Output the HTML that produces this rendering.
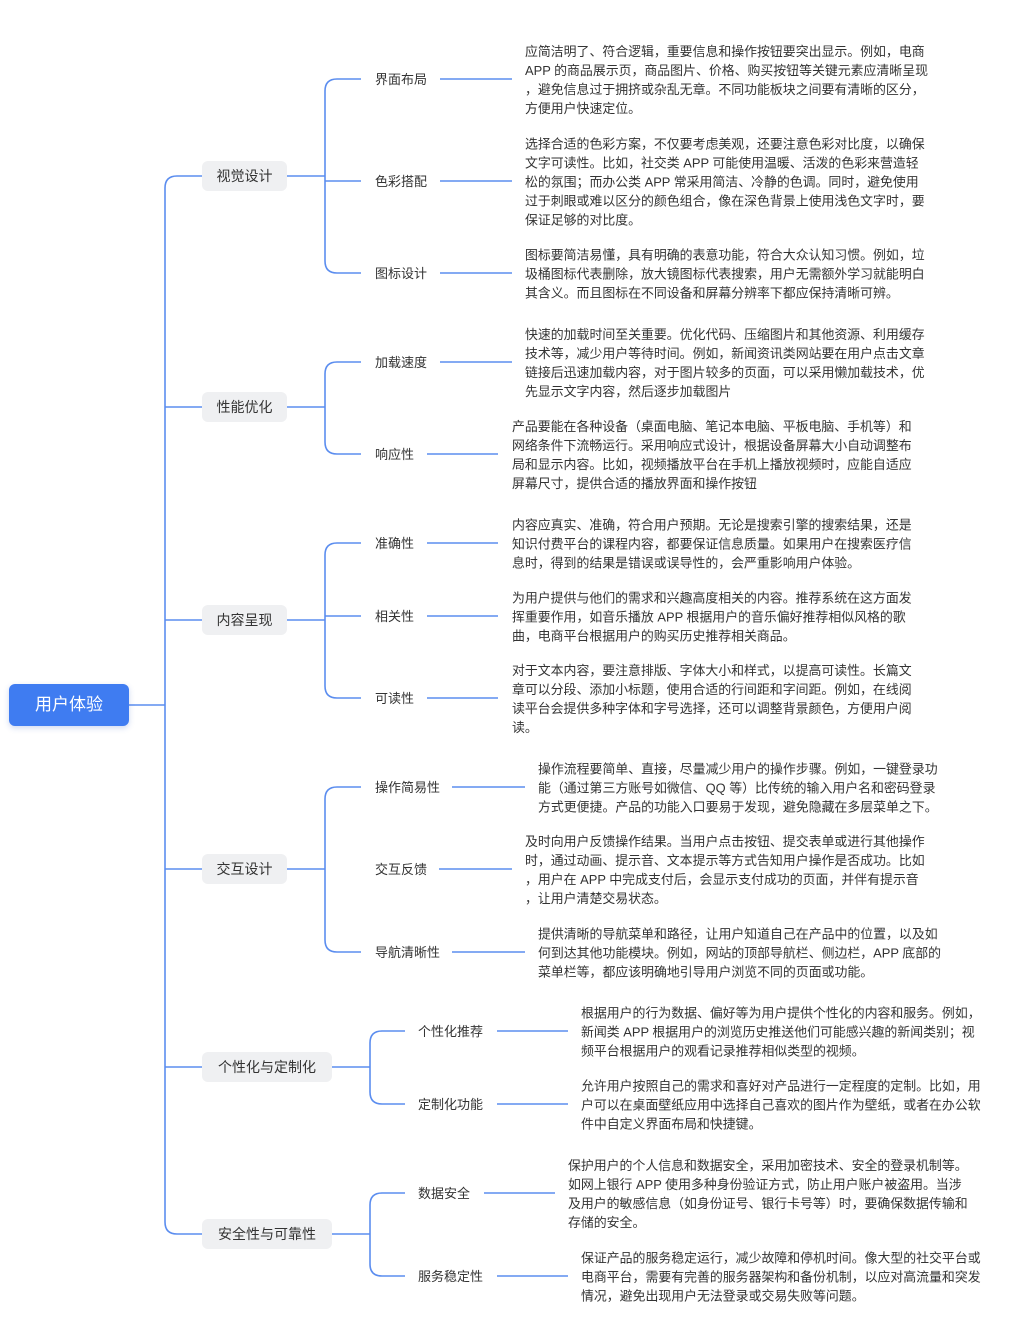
<!DOCTYPE html>
<html><head><meta charset="utf-8"><style>
body{margin:0;background:#fff;width:1026px;height:1332px;position:relative;overflow:hidden;font-family:"Liberation Sans","Noto Sans CJK SC",sans-serif;color:#333}
svg{position:absolute;left:0;top:0}
.root{position:absolute;left:9px;top:684px;width:120px;height:42px;background:#3f7cf1;border-radius:6px;color:#fff;font-size:17px;line-height:42px;text-align:center;box-shadow:0 2px 6px rgba(60,100,200,.25)}
.l1{position:absolute;left:202px;height:30px;line-height:30px;background:#eff0f2;border-radius:6px;font-size:14px;text-align:center;color:#333}
.l2{position:absolute;font-size:13px;line-height:18px;transform:translateY(-50%);margin-top:1px;white-space:nowrap}
.t{position:absolute;font-size:12.9px;line-height:19px;transform:translateY(-50%);margin-top:1px;white-space:nowrap;color:#333}
</style></head><body>
<svg width="1026" height="1332" fill="none" stroke="#5b8def" stroke-width="1.6">
<path d="M129,705 H165 M202,176 H177 Q165,176 165,188 V1222 Q165,1234 177,1234 H202 M165,407 H202 M165,620 H202 M165,869 H202 M165,1067 H202"/>
<path d="M287,176 H325 M361,79 H337 Q325,79 325,91 V261 Q325,273 337,273 H361 M325,181 H361"/>
<path d="M287,407 H325 M361,362 H337 Q325,362 325,374 V442 Q325,454 337,454 H361"/>
<path d="M287,620 H325 M361,543 H337 Q325,543 325,555 V686 Q325,698 337,698 H361 M325,616 H361"/>
<path d="M287,869 H325 M361,787 H337 Q325,787 325,799 V940 Q325,952 337,952 H361"/>
<path d="M332,1067 H370 M405,1031 H382 Q370,1031 370,1043 V1092 Q370,1104 382,1104 H405"/>
<path d="M332,1234 H370 M405,1193 H382 Q370,1193 370,1205 V1264 Q370,1276 382,1276 H405"/>
<path d="M440,79 H512 M440,181 H512 M440,273 H512 M440,362 H512 M427,454 H498 M427,543 H498 M427,616 H498 M427,698 H498 M452,787 H525 M439,869 H512 M452,952 H525 M497,1031 H568 M497,1104 H568 M484,1193 H555 M497,1276 H568"/>
</svg>
<div class="root">用户体验</div>
<div class="l1" style="top:161px;width:85px">视觉设计</div>
<div class="l1" style="top:392px;width:85px">性能优化</div>
<div class="l1" style="top:605px;width:85px">内容呈现</div>
<div class="l1" style="top:854px;width:85px">交互设计</div>
<div class="l1" style="top:1052px;width:130px">个性化与定制化</div>
<div class="l1" style="top:1219px;width:130px">安全性与可靠性</div>

<div class="l2" style="left:375px;top:79px">界面布局</div>
<div class="l2" style="left:375px;top:181px">色彩搭配</div>
<div class="l2" style="left:375px;top:273px">图标设计</div>
<div class="l2" style="left:375px;top:362px">加载速度</div>
<div class="l2" style="left:375px;top:454px">响应性</div>
<div class="l2" style="left:375px;top:543px">准确性</div>
<div class="l2" style="left:375px;top:616px">相关性</div>
<div class="l2" style="left:375px;top:698px">可读性</div>
<div class="l2" style="left:375px;top:787px">操作简易性</div>
<div class="l2" style="left:375px;top:869px">交互反馈</div>
<div class="l2" style="left:375px;top:952px">导航清晰性</div>
<div class="l2" style="left:418px;top:1031px">个性化推荐</div>
<div class="l2" style="left:418px;top:1104px">定制化功能</div>
<div class="l2" style="left:418px;top:1193px">数据安全</div>
<div class="l2" style="left:418px;top:1276px">服务稳定性</div>

<div class="t" style="left:525px;top:79px">应简洁明了、符合逻辑，重要信息和操作按钮要突出显示。例如，电商<br>APP 的商品展示页，商品图片、价格、购买按钮等关键元素应清晰呈现<br>，避免信息过于拥挤或杂乱无章。不同功能板块之间要有清晰的区分，<br>方便用户快速定位。</div>
<div class="t" style="left:525px;top:181px">选择合适的色彩方案，不仅要考虑美观，还要注意色彩对比度，以确保<br>文字可读性。比如，社交类 APP 可能使用温暖、活泼的色彩来营造轻<br>松的氛围；而办公类 APP 常采用简洁、冷静的色调。同时，避免使用<br>过于刺眼或难以区分的颜色组合，像在深色背景上使用浅色文字时，要<br>保证足够的对比度。</div>
<div class="t" style="left:525px;top:273px">图标要简洁易懂，具有明确的表意功能，符合大众认知习惯。例如，垃<br>圾桶图标代表删除，放大镜图标代表搜索，用户无需额外学习就能明白<br>其含义。而且图标在不同设备和屏幕分辨率下都应保持清晰可辨。</div>
<div class="t" style="left:525px;top:362px">快速的加载时间至关重要。优化代码、压缩图片和其他资源、利用缓存<br>技术等，减少用户等待时间。例如，新闻资讯类网站要在用户点击文章<br>链接后迅速加载内容，对于图片较多的页面，可以采用懒加载技术，优<br>先显示文字内容，然后逐步加载图片</div>
<div class="t" style="left:512px;top:454px">产品要能在各种设备（桌面电脑、笔记本电脑、平板电脑、手机等）和<br>网络条件下流畅运行。采用响应式设计，根据设备屏幕大小自动调整布<br>局和显示内容。比如，视频播放平台在手机上播放视频时，应能自适应<br>屏幕尺寸，提供合适的播放界面和操作按钮</div>
<div class="t" style="left:512px;top:543px">内容应真实、准确，符合用户预期。无论是搜索引擎的搜索结果，还是<br>知识付费平台的课程内容，都要保证信息质量。如果用户在搜索医疗信<br>息时，得到的结果是错误或误导性的，会严重影响用户体验。</div>
<div class="t" style="left:512px;top:616px">为用户提供与他们的需求和兴趣高度相关的内容。推荐系统在这方面发<br>挥重要作用，如音乐播放 APP 根据用户的音乐偏好推荐相似风格的歌<br>曲，电商平台根据用户的购买历史推荐相关商品。</div>
<div class="t" style="left:512px;top:698px">对于文本内容，要注意排版、字体大小和样式，以提高可读性。长篇文<br>章可以分段、添加小标题，使用合适的行间距和字间距。例如，在线阅<br>读平台会提供多种字体和字号选择，还可以调整背景颜色，方便用户阅<br>读。</div>
<div class="t" style="left:538px;top:787px">操作流程要简单、直接，尽量减少用户的操作步骤。例如，一键登录功<br>能（通过第三方账号如微信、QQ 等）比传统的输入用户名和密码登录<br>方式更便捷。产品的功能入口要易于发现，避免隐藏在多层菜单之下。</div>
<div class="t" style="left:525px;top:869px">及时向用户反馈操作结果。当用户点击按钮、提交表单或进行其他操作<br>时，通过动画、提示音、文本提示等方式告知用户操作是否成功。比如<br>，用户在 APP 中完成支付后，会显示支付成功的页面，并伴有提示音<br>，让用户清楚交易状态。</div>
<div class="t" style="left:538px;top:952px">提供清晰的导航菜单和路径，让用户知道自己在产品中的位置，以及如<br>何到达其他功能模块。例如，网站的顶部导航栏、侧边栏，APP 底部的<br>菜单栏等，都应该明确地引导用户浏览不同的页面或功能。</div>
<div class="t" style="left:581px;top:1031px">根据用户的行为数据、偏好等为用户提供个性化的内容和服务。例如，<br>新闻类 APP 根据用户的浏览历史推送他们可能感兴趣的新闻类别；视<br>频平台根据用户的观看记录推荐相似类型的视频。</div>
<div class="t" style="left:581px;top:1104px">允许用户按照自己的需求和喜好对产品进行一定程度的定制。比如，用<br>户可以在桌面壁纸应用中选择自己喜欢的图片作为壁纸，或者在办公软<br>件中自定义界面布局和快捷键。</div>
<div class="t" style="left:568px;top:1193px">保护用户的个人信息和数据安全，采用加密技术、安全的登录机制等。<br>如网上银行 APP 使用多种身份验证方式，防止用户账户被盗用。当涉<br>及用户的敏感信息（如身份证号、银行卡号等）时，要确保数据传输和<br>存储的安全。</div>
<div class="t" style="left:581px;top:1276px">保证产品的服务稳定运行，减少故障和停机时间。像大型的社交平台或<br>电商平台，需要有完善的服务器架构和备份机制，以应对高流量和突发<br>情况，避免出现用户无法登录或交易失败等问题。</div>
</body></html>
